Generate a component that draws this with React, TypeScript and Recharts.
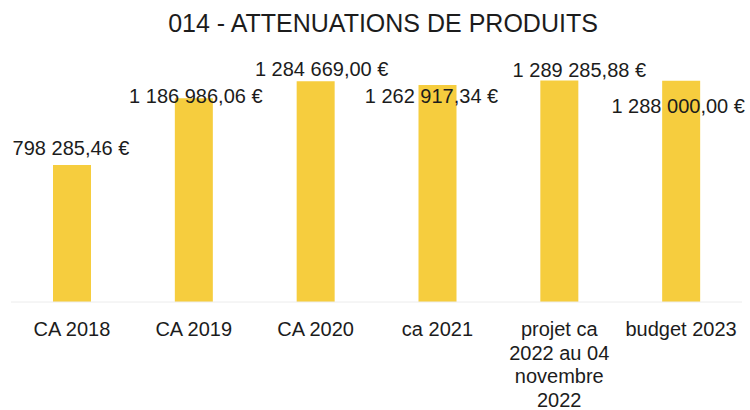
import { BarChart, Bar, XAxis, YAxis, LabelList } from 'recharts'

// ── Data ─────────────────────────────────────────────────────────────────────

const CATEGORIES = [
  'CA 2018',
  'CA 2019',
  'CA 2020',
  'ca 2021',
  'projet ca 2022 au 04 novembre 2022',
  'budget 2023',
]
const AMOUNTS = [798285.46, 1186986.06, 1284669.0, 1262917.34, 1289285.88, 1288000.0]

const TITLE = '014 - ATTENUATIONS DE PRODUITS'

// ── Styles ───────────────────────────────────────────────────────────────────

const FONT = '"Liberation Sans", Arial, sans-serif'
const BAR_COLOR = '#F6CD3E'
const TEXT_COLOR = '#1c1c1c'
const Y_MAX = 1380000
const TICK_WRAP = 118

// data labels were hand-moved in the original, so nudge each one
const LABEL_SHIFTS = [
  { dx: -1, dy: -17 },
  { dx: 2, dy: -2 },
  { dx: 6, dy: -12 },
  { dx: -6, dy: 11 },
  { dx: 20, dy: -11 },
  { dx: -3, dy: 25 },
]

const rows = CATEGORIES.map((name, i) => ({ name, amount: AMOUNTS[i] }))

// ── Helpers ──────────────────────────────────────────────────────────────────

function euro(v: number) {
  const [int, dec] = v.toFixed(2).split('.')
  const grouped = int.replace(/\B(?=(\d{3})+(?!\d))/g, ' ')
  return `${grouped},${dec} €`
}

let measureCtx: CanvasRenderingContext2D | null = null
function wrap(text: string, maxWidth: number) {
  if (!measureCtx) {
    measureCtx = document.createElement('canvas').getContext('2d')
    if (measureCtx) measureCtx.font = `20px ${FONT}`
  }
  const words = text.split(' ')
  const lines: string[] = []
  let cur = ''
  for (const w of words) {
    const next = cur ? `${cur} ${w}` : w
    const wdt = measureCtx ? measureCtx.measureText(next).width : next.length * 10
    if (cur && wdt > maxWidth) {
      lines.push(cur)
      cur = w
    } else {
      cur = next
    }
  }
  if (cur) lines.push(cur)
  return lines
}

function CategoryTick({ x, y, payload }: any) {
  const lines = wrap(String(payload.value), TICK_WRAP)
  return (
    <text
      x={x}
      y={y + 26}
      textAnchor="middle"
      fill={TEXT_COLOR}
      style={{ fontSize: 20, fontFamily: FONT }}
    >
      {lines.map((l, i) => (
        <tspan key={i} x={x} dy={i === 0 ? 0 : 23.5}>
          {l}
        </tspan>
      ))}
    </text>
  )
}

function AmountLabel({ x, y, width, value, index }: any) {
  const s = LABEL_SHIFTS[index] ?? { dx: 0, dy: -12 }
  return (
    <text
      x={x + width / 2 + s.dx}
      y={y + s.dy + 7}
      textAnchor="middle"
      fill={TEXT_COLOR}
      style={{ fontSize: 20, fontFamily: FONT }}
    >
      {euro(value)}
    </text>
  )
}

// ── Component ────────────────────────────────────────────────────────────────

export default function App() {
  return (
    <div style={{ position: 'absolute', left: 0, top: 0, width: 750, height: 410, background: '#fff' }}>
      <div
        style={{
          position: 'absolute',
          top: 9,
          left: 8,
          width: 750,
          textAlign: 'center',
          fontFamily: FONT,
          fontSize: 25,
          color: TEXT_COLOR,
        }}
      >
        {TITLE}
      </div>
      <BarChart
        width={750}
        height={410}
        data={rows}
        margin={{ top: 65, right: 8, bottom: 0, left: 11 }}
      >
        <XAxis
          dataKey="name"
          height={108}
          interval={0}
          tickLine={false}
          axisLine={{ stroke: '#ececec' }}
          tick={<CategoryTick />}
        />
        <YAxis hide domain={[0, Y_MAX]} />
        <Bar dataKey="amount" fill={BAR_COLOR} barSize={38} isAnimationActive={false}>
          <LabelList dataKey="amount" content={<AmountLabel />} />
        </Bar>
      </BarChart>
    </div>
  )
}
